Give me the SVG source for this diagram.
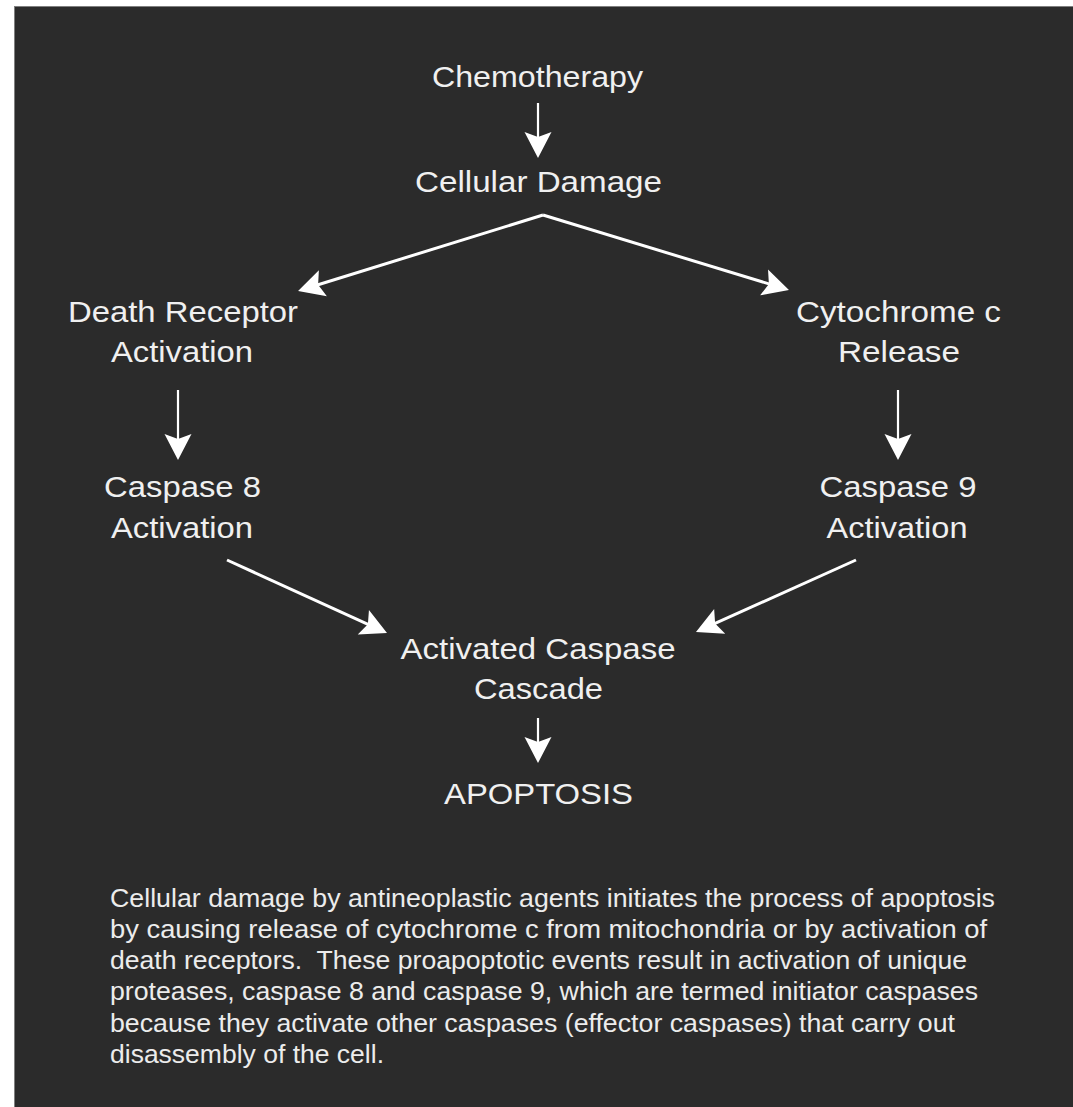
<svg xmlns="http://www.w3.org/2000/svg" width="1073" height="1107" viewBox="0 0 1073 1107">
<style>
.lbl{font-family:"Liberation Sans",Arial,sans-serif;font-size:30px;fill:#f0f0f0;text-anchor:middle}
.para{font-family:"Liberation Sans",Arial,sans-serif;font-size:25.5px;fill:#ececec}
.conn{stroke:#ffffff;fill:none;marker-end:url(#ah)}
.v{stroke-width:2.2}
.d{stroke-width:3}
</style>
<defs>
<marker id="ah" markerUnits="userSpaceOnUse" markerWidth="30" markerHeight="30" viewBox="-18 -15 30 30" refX="0" refY="0" orient="auto">
<path d="M10,0 L-16,-13.5 L-11,0 L-16,13.5 Z" fill="#ffffff"/>
</marker>
</defs>
<rect x="0" y="0" width="1073" height="1107" fill="#ffffff"/>
<rect x="14.5" y="6.5" width="1070" height="1110" fill="#2b2b2b" stroke="#7f7f7f" stroke-width="1"/>

<g id="connectors">
<path class="conn v" d="M538,103 L538,148"/>
<path class="conn d" d="M543,215 L307.6,288"/>
<path class="conn d" d="M543,215 L779.4,287.1"/>
<path class="conn v" d="M178,390 L178,450"/>
<path class="conn v" d="M898,390 L898,450"/>
<path class="conn d" d="M227,560 L377.9,628.9"/>
<path class="conn d" d="M856,560 L705.1,627.9"/>
<path class="conn v" d="M538,718 L538,753"/>
</g>

<g id="chemotherapy"><text class="lbl" x="537.5" y="87" textLength="211" lengthAdjust="spacingAndGlyphs">Chemotherapy</text></g>
<g id="cellular-damage"><text class="lbl" x="538.5" y="192" textLength="247" lengthAdjust="spacingAndGlyphs">Cellular Damage</text></g>
<g id="death-receptor">
<text class="lbl" x="183" y="322" textLength="230" lengthAdjust="spacingAndGlyphs">Death Receptor</text>
<text class="lbl" x="182" y="362" textLength="142" lengthAdjust="spacingAndGlyphs">Activation</text>
</g>
<g id="cytochrome">
<text class="lbl" x="898.5" y="322" textLength="205" lengthAdjust="spacingAndGlyphs">Cytochrome c</text>
<text class="lbl" x="899" y="362" textLength="122" lengthAdjust="spacingAndGlyphs">Release</text>
</g>
<g id="caspase8">
<text class="lbl" x="182.5" y="497" textLength="157" lengthAdjust="spacingAndGlyphs">Caspase 8</text>
<text class="lbl" x="182" y="538" textLength="142" lengthAdjust="spacingAndGlyphs">Activation</text>
</g>
<g id="caspase9">
<text class="lbl" x="898" y="497" textLength="157" lengthAdjust="spacingAndGlyphs">Caspase 9</text>
<text class="lbl" x="897" y="538" textLength="141" lengthAdjust="spacingAndGlyphs">Activation</text>
</g>
<g id="cascade">
<text class="lbl" x="538" y="659" textLength="275" lengthAdjust="spacingAndGlyphs">Activated Caspase</text>
<text class="lbl" x="538.5" y="699" textLength="129" lengthAdjust="spacingAndGlyphs">Cascade</text>
</g>
<g id="apoptosis"><text class="lbl" x="538.5" y="804" textLength="189" lengthAdjust="spacingAndGlyphs">APOPTOSIS</text></g>

<g id="caption">
<text class="para" x="110" y="907" textLength="885" lengthAdjust="spacingAndGlyphs">Cellular damage by antineoplastic agents initiates the process of apoptosis</text>
<text class="para" x="110" y="938" textLength="877" lengthAdjust="spacingAndGlyphs">by causing release of cytochrome c from mitochondria or by activation of</text>
<text class="para" x="110" y="969" textLength="857" lengthAdjust="spacingAndGlyphs" xml:space="preserve">death receptors.  These proapoptotic events result in activation of unique</text>
<text class="para" x="110" y="1000" textLength="868" lengthAdjust="spacingAndGlyphs">proteases, caspase 8 and caspase 9, which are termed initiator caspases</text>
<text class="para" x="110" y="1032" textLength="845" lengthAdjust="spacingAndGlyphs">because they activate other caspases (effector caspases) that carry out</text>
<text class="para" x="110" y="1063" textLength="274" lengthAdjust="spacingAndGlyphs">disassembly of the cell.</text>
</g>
</svg>
